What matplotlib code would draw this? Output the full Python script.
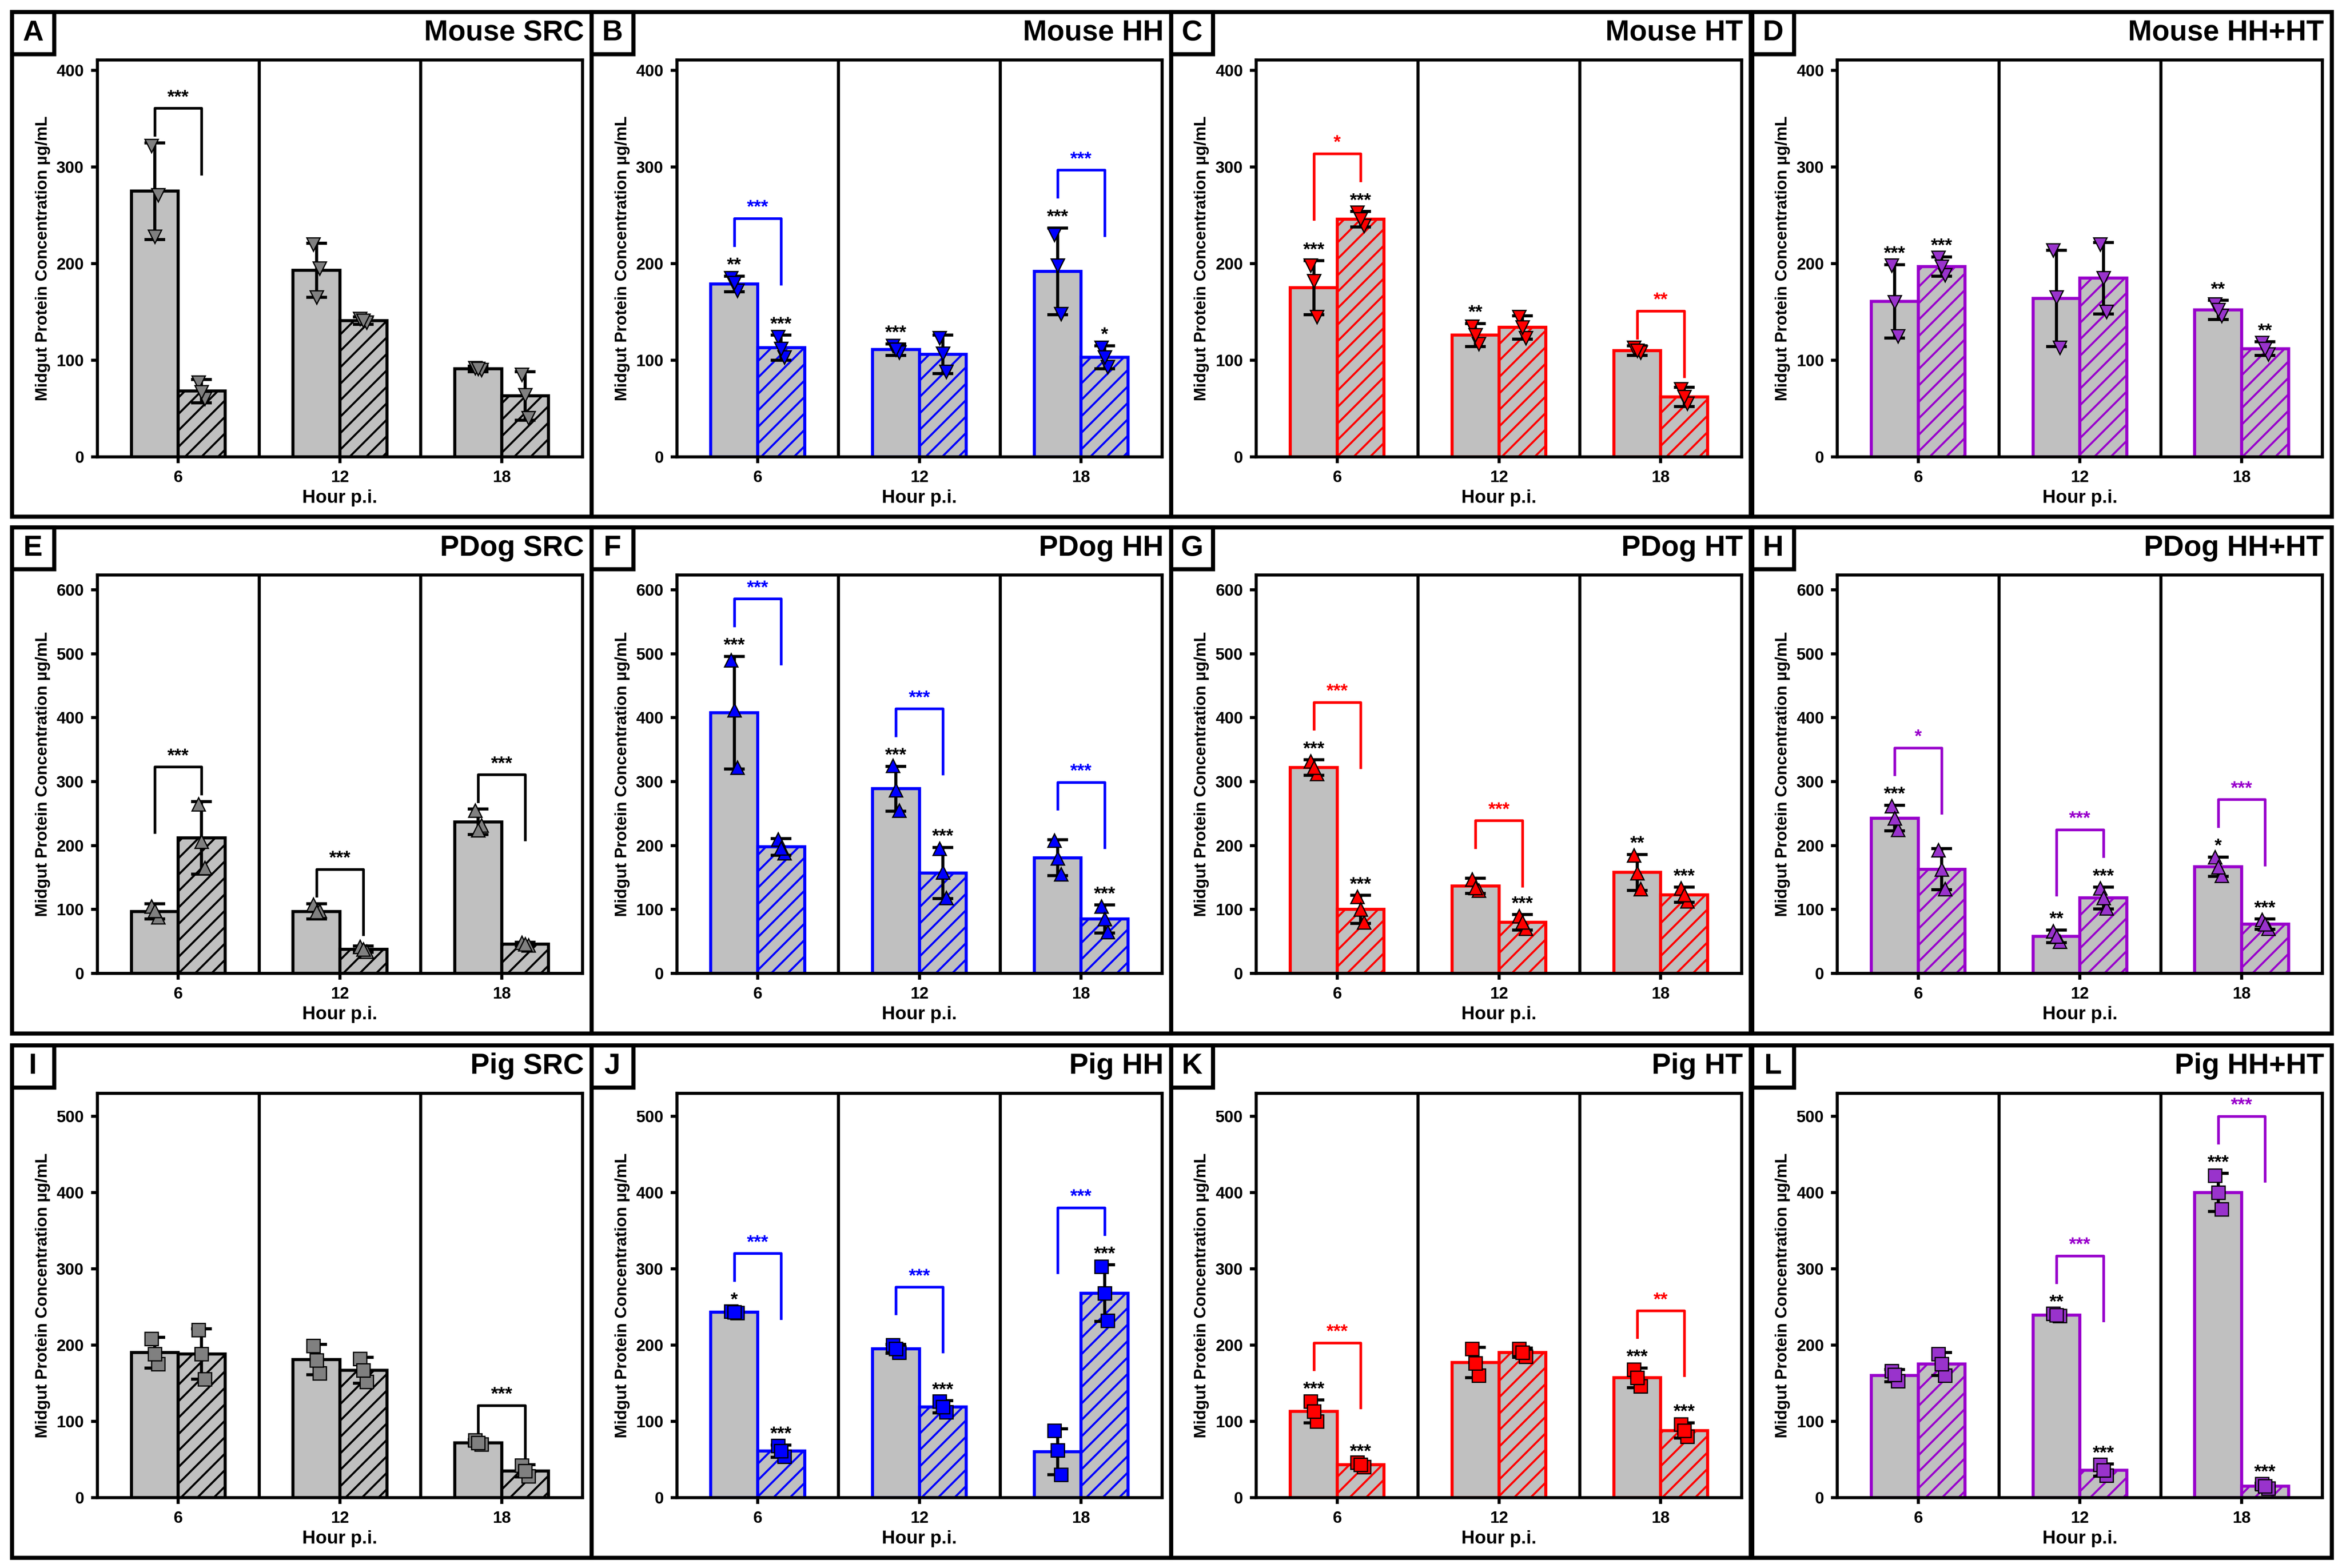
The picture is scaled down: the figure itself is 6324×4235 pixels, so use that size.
import matplotlib.pyplot as plt
from matplotlib.patches import Rectangle

plt.rcParams['font.family'] = ['Liberation Sans', 'DejaVu Sans']
plt.rcParams['font.weight'] = 'bold'
plt.rcParams['hatch.linewidth'] = 1.0

hours = ['6', '12', '18']
letters = ['A', 'B', 'C', 'D', 'E', 'F', 'G', 'H', 'I', 'J', 'K', 'L']
titles = ['Mouse SRC', 'Mouse HH', 'Mouse HT', 'Mouse HH+HT',
          'PDog SRC', 'PDog HH', 'PDog HT', 'PDog HH+HT',
          'Pig SRC', 'Pig HH', 'Pig HT', 'Pig HH+HT']
row_ymax = [400, 600, 500]
row_ylim = [411, 623, 530]

# bar 1 (solid) and bar 2 (hatched) means and error per hour
mean1 = [[275, 193, 91], [179, 111, 192], [175, 126, 110], [161, 164, 152],
         [97, 97, 237], [408, 289, 181], [322, 137, 158], [243, 58, 167],
         [190, 181, 72], [243, 195, 60], [113, 177, 157], [160, 239, 400]]
err1 = [[50, 28, 3], [8, 6, 45], [28, 12, 5], [38, 50, 10],
        [12, 12, 20], [88, 35, 28], [12, 12, 28], [20, 10, 15],
        [20, 20, 4], [2, 6, 30], [15, 20, 13], [8, 3, 25]]
mean2 = [[68, 141, 63], [113, 106, 103], [246, 134, 62], [197, 185, 112],
         [212, 38, 46], [198, 157, 85], [100, 80, 123], [163, 118, 77],
         [188, 167, 35], [61, 119, 268], [43, 190, 88], [175, 36, 15]]
err2 = [[12, 4, 25], [13, 20, 12], [8, 12, 10], [10, 37, 7],
        [57, 5, 3], [13, 40, 22], [22, 12, 12], [32, 17, 8],
        [33, 17, 8], [8, 8, 37], [3, 6, 10], [15, 8, 4]]
pts1 = [[[322, 271, 228], [220, 195, 165], [92, 90, 91]],
        [[185, 172, 180], [115, 108, 111], [230, 148, 198]],
        [[198, 145, 182], [135, 117, 126], [113, 108, 110]],
        [[198, 125, 160], [214, 113, 165], [158, 146, 152]],
        [[105, 88, 98], [108, 98, 96], [255, 232, 224]],
        [[490, 322, 412], [325, 255, 287], [208, 155, 180]],
        [[332, 312, 322], [147, 130, 134], [185, 132, 157]],
        [[262, 225, 243], [66, 50, 58], [182, 153, 166]],
        [[208, 175, 188], [199, 163, 180], [75, 70, 72]],
        [[244, 242, 243], [200, 190, 195], [88, 30, 62]],
        [[126, 100, 113], [195, 160, 176], [168, 146, 157]],
        [[166, 153, 161], [241, 238, 239], [422, 378, 400]]]
pts2 = [[[77, 60, 67], [143, 139, 141], [85, 40, 64]],
        [[124, 103, 112], [123, 88, 107], [113, 93, 103]],
        [[253, 239, 246], [145, 123, 134], [70, 55, 62]],
        [[206, 188, 197], [220, 150, 185], [118, 106, 112]],
        [[265, 165, 206], [42, 34, 38], [48, 44, 46]],
        [[210, 188, 196], [195, 118, 158], [105, 65, 85]],
        [[120, 80, 100], [90, 70, 80], [133, 113, 123]],
        [[193, 132, 163], [133, 102, 118], [84, 70, 77]],
        [[220, 155, 188], [182, 152, 167], [42, 28, 35]],
        [[68, 54, 61], [126, 112, 119], [303, 232, 268]],
        [[46, 40, 43], [195, 185, 190], [96, 80, 88]],
        [[188, 160, 175], [43, 29, 36], [18, 12, 15]]]
stars1 = [['', '', ''], ['**', '***', '***'], ['***', '**', ''], ['***', '', '**'],
          ['', '', ''], ['***', '***', ''], ['***', '', '**'], ['***', '**', '*'],
          ['', '', ''], ['*', '', ''], ['***', '', '***'], ['', '**', '***']]
stars2 = [['', '', ''], ['***', '', '*'], ['***', '', ''], ['***', '', '**'],
          ['', '', ''], ['', '***', '***'], ['***', '***', '***'], ['', '***', '***'],
          ['', '', ''], ['***', '***', '***'], ['***', '', '***'], ['', '***', '***']]
brackets = [['***', '', ''], ['***', '', '***'], ['*', '', '**'], ['', '', ''],
            ['***', '***', '***'], ['***', '***', '***'], ['***', '***', ''], ['*', '***', '***'],
            ['', '', '***'], ['***', '***', '***'], ['***', '', '**'], ['', '***', '***']]

edge_colors = ['black', '#0000ff', '#ff0000', '#9900cc']
marker_colors = ['#808080', '#0000ff', '#ff0000', '#9933cc']
markers = ['v', '^', 's']

fig = plt.figure(figsize=(6324 / 400, 4235 / 400), dpi=400)
W, H = 1564, 1047
col_left = [8, 395, 782, 1170]
row_top = [8, 352, 698]
row_bot = [345, 690, 1040]
pw = 387
bw = 0.29

for i in range(12):
    r, c = divmod(i, 4)
    x0 = col_left[c]
    ec = edge_colors[c]
    mc = marker_colors[c]
    ymax = row_ymax[r]
    # outer panel box and letter box
    fig.add_artist(Rectangle((x0 / W, 1 - row_bot[r] / H), pw / W, (row_bot[r] - row_top[r]) / H,
                             transform=fig.transFigure, fill=False, lw=2, color='black'))
    fig.add_artist(Rectangle((x0 / W, 1 - (row_top[r] + 28) / H), 28 / W, 28 / H,
                             transform=fig.transFigure, fill=False, lw=2, color='black'))
    fig.text((x0 + 14) / W, 1 - (row_top[r] + 14) / H, letters[i], fontsize=14,
             fontweight='bold', ha='center', va='center')
    fig.text((x0 + pw - 5) / W, 1 - (row_top[r] + 14) / H, titles[i], fontsize=14,
             fontweight='bold', ha='right', va='center')

    ax_top = row_top[r] + 32
    ax_bot = row_bot[r] - 40
    ax = fig.add_axes([(x0 + 57) / W, 1 - ax_bot / H, (pw - 63) / W, (ax_bot - ax_top) / H])
    for g in range(3):
        xg = g + 1
        ax.bar(xg - bw / 2, mean1[i][g], bw, color='#c0c0c0', edgecolor=ec, lw=1.5, zorder=2)
        ax.bar(xg + bw / 2, mean2[i][g], bw, color='#c0c0c0', edgecolor=ec, lw=1.5,
               hatch='///', zorder=2)
        for xb, m, e, p, s in [(xg - bw / 2, mean1[i][g], err1[i][g], pts1[i][g], stars1[i][g]),
                               (xg + bw / 2, mean2[i][g], err2[i][g], pts2[i][g], stars2[i][g])]:
            ax.errorbar(xb, m, yerr=e, color='black', capsize=5, capthick=1.5, lw=1.5, zorder=3)
            ax.plot([xb - 0.02, xb + 0.02, xb], p, ls='none', marker=markers[r], ms=6.5,
                    mfc=mc, mec='black', mew=0.6, zorder=4)
            if s:
                ax.text(xb, m + e + 0.005 * ymax, s, ha='center', va='bottom',
                        fontsize=9, fontweight='bold')
        b = brackets[i][g]
        if b:
            t1 = mean1[i][g] + err1[i][g]
            t2 = mean2[i][g] + err2[i][g]
            has_star = stars1[i][g] or stars2[i][g]
            top = max(t1, t2) + (0.15 if has_star else 0.09) * ymax
            hi = top - 0.07 * ymax
            lo = top - 0.17 * ymax
            l1, l2 = (hi, lo) if t1 >= t2 else (lo, hi)
            ax.plot([xg - bw / 2, xg - bw / 2, xg + bw / 2, xg + bw / 2],
                    [l1, top, top, l2], color=ec, lw=1.3, zorder=3)
            ax.text(xg, top + 0.005 * ymax, b, color=ec, ha='center', va='bottom',
                    fontsize=9, fontweight='bold')
    ax.axvline(1.5, color='black', lw=1.5)
    ax.axvline(2.5, color='black', lw=1.5)
    ax.set_xlim(0.5, 3.5)
    ax.set_ylim(0, row_ylim[r])
    ax.set_yticks(range(0, ymax + 1, 100))
    ax.set_xticks([1, 2, 3])
    ax.set_xticklabels(hours)
    ax.tick_params(labelsize=8, width=1.5, length=3)
    for sp in ax.spines.values():
        sp.set_linewidth(1.5)
    ax.set_xlabel('Hour p.i.', fontsize=9, fontweight='bold', labelpad=2)
    ax.set_ylabel('Midgut Protein Concentration µg/mL', fontsize=8, fontweight='bold', labelpad=3)

fig.savefig('out.png', dpi=400)
